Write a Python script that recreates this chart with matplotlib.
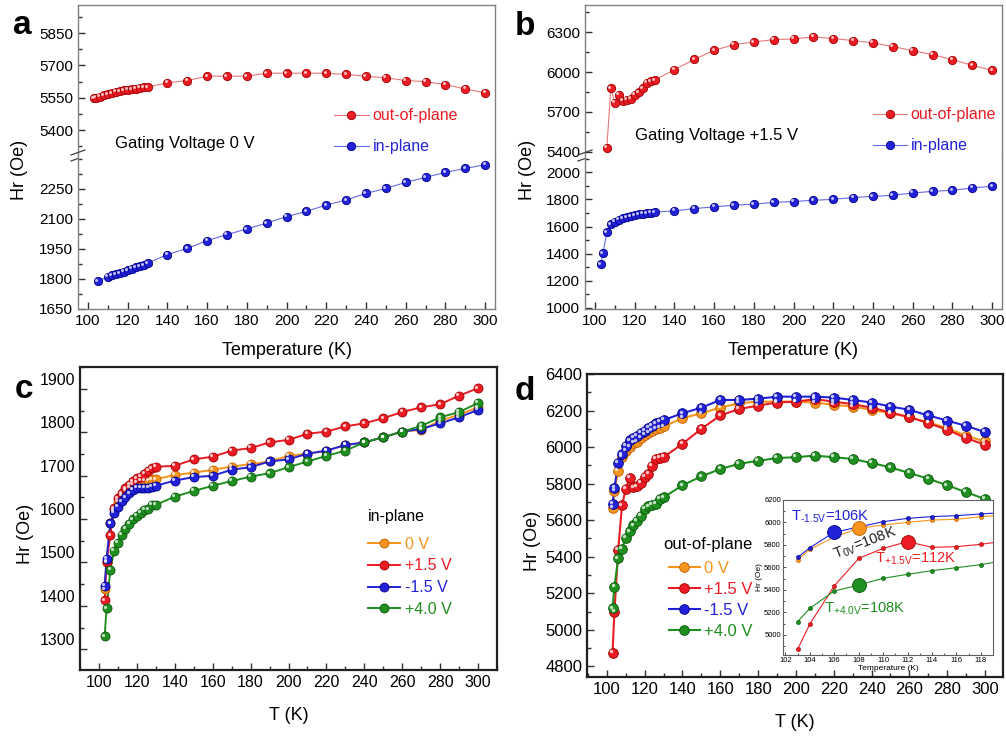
import matplotlib
matplotlib.use("Agg")
import matplotlib.pyplot as plt
import matplotlib.transforms as mtransforms
from matplotlib.lines import Line2D
from matplotlib.ticker import AutoMinorLocator, FixedLocator

plt.rcParams['font.family'] = ['Liberation Sans', 'DejaVu Sans']
plt.rcParams['mathtext.fontset'] = 'custom'
plt.rcParams['mathtext.rm'] = 'Liberation Sans'

# temperatures (K)
temps = [103, 104, 106, 108, 110, 112, 114, 116, 118, 120, 122, 124, 126, 128, 130,
         140, 150, 160, 170, 180, 190, 200, 210, 220, 230, 240, 250, 260, 270, 280, 290, 300]

# panel a : gating voltage 0 V
a_out = [5547, 5550, 5556, 5562, 5567, 5572, 5577, 5581, 5584, 5587, 5590, 5593, 5597, 5599, 5600,
         5619, 5630, 5650, 5650, 5650, 5664, 5664, 5664, 5664, 5658, 5650, 5643, 5630, 5625, 5611, 5591, 5573]
a_in_t = [105, 110, 112, 114, 116, 118, 120, 122, 124, 126, 128, 130,
          140, 150, 160, 170, 180, 190, 200, 210, 220, 230, 240, 250, 260, 270, 280, 290, 300]
a_in = [1788, 1812, 1818, 1824, 1830, 1836, 1843, 1852, 1858, 1864, 1870, 1880,
        1922, 1953, 1992, 2022, 2050, 2080, 2112, 2138, 2170, 2195, 2228, 2253, 2283, 2308, 2333, 2353, 2371]

# panel b : gating voltage +1.5 V
b_out_t = [106, 108, 110, 112, 114, 116, 118, 120, 122, 124, 126, 128, 130,
           140, 150, 160, 170, 180, 190, 200, 210, 220, 230, 240, 250, 260, 270, 280, 290, 300]
b_out = [5430, 5880, 5770, 5831, 5783, 5790, 5800, 5830, 5850, 5880, 5920, 5930, 5940,
         6018, 6096, 6164, 6207, 6227, 6245, 6250, 6265, 6253, 6238, 6220, 6193, 6162, 6132, 6094, 6051, 6013]
b_in = [1321, 1403, 1556, 1618, 1634, 1650, 1660, 1668, 1676, 1683, 1690, 1695, 1700, 1703, 1707,
        1715, 1733, 1745, 1758, 1765, 1778, 1785, 1794, 1801, 1814, 1823, 1831, 1848, 1860, 1868, 1885, 1898]

# panel c : in-plane
c_0v = [1438, 1502, 1590, 1620, 1640, 1655, 1665, 1673, 1680, 1685, 1688, 1688, 1690, 1692, 1692,
        1702, 1707, 1714, 1721, 1727, 1733, 1746, 1751, 1758, 1771, 1777, 1789, 1802, 1806, 1827, 1841, 1858]
c_p15 = [1413, 1500, 1563, 1625, 1648, 1660, 1671, 1679, 1687, 1694, 1698, 1704, 1711, 1717, 1721,
         1723, 1738, 1744, 1758, 1764, 1777, 1783, 1797, 1802, 1814, 1821, 1833, 1847, 1858, 1865, 1885, 1902]
c_m15 = [1446, 1508, 1590, 1614, 1629, 1641, 1650, 1660, 1667, 1673, 1673, 1673, 1673, 1675, 1677,
         1689, 1697, 1700, 1714, 1720, 1733, 1738, 1751, 1758, 1771, 1777, 1789, 1802, 1808, 1821, 1835, 1852]
c_p40 = [1330, 1394, 1483, 1527, 1546, 1564, 1577, 1589, 1600, 1608, 1614, 1621, 1623, 1633, 1633,
         1652, 1665, 1677, 1688, 1698, 1706, 1720, 1733, 1746, 1758, 1777, 1789, 1802, 1815, 1835, 1847, 1868]

# panel d : out-of-plane
d_0v = [5668, 5761, 5870, 5948, 5978, 6001, 6022, 6028, 6052, 6065, 6078, 6088, 6098, 6105, 6113,
        6158, 6185, 6216, 6240, 6249, 6249, 6249, 6244, 6231, 6222, 6204, 6185, 6164, 6135, 6104, 6062, 6031]
d_p15 = [4873, 5098, 5436, 5681, 5770, 5830, 5779, 5785, 5806, 5836, 5855, 5898, 5935, 5940, 5945,
         6018, 6100, 6173, 6209, 6227, 6244, 6249, 6262, 6249, 6235, 6216, 6189, 6164, 6131, 6095, 6049, 6013]
d_m15 = [5690, 5776, 5913, 5960, 6007, 6037, 6052, 6061, 6076, 6090, 6105, 6118, 6130, 6140, 6148,
         6185, 6216, 6258, 6258, 6265, 6276, 6276, 6276, 6271, 6258, 6244, 6222, 6204, 6173, 6145, 6116, 6082]
d_p40 = [5118, 5237, 5391, 5444, 5504, 5539, 5572, 5598, 5625, 5664, 5676, 5685, 5691, 5716, 5725,
         5791, 5840, 5880, 5909, 5925, 5940, 5945, 5953, 5945, 5935, 5913, 5889, 5858, 5827, 5791, 5753, 5716]

voltages = ['0 V', '+1.5 V', '-1.5 V', '+4.0 V']
t_cross = [108, 112, 106, 108]   # transition temperatures marked in the inset

RED, RED_E = '#ec1c24', '#a00000'
BLUE, BLUE_E = '#2222d8', '#00008a'
ORANGE, ORANGE_E = '#f7941d', '#c06000'
GREEN, GREEN_E = '#1f8f1f', '#0a560a'
colors = [(ORANGE, ORANGE_E), (RED, RED_E), (BLUE, BLUE_E), (GREEN, GREEN_E)]

W, H = 1006, 736
fig = plt.figure(figsize=(W / 100, H / 100), dpi=100)


def px_axes(x0, y0, x1, y1):
    return fig.add_axes([x0 / W, 1 - y1 / H, (x1 - x0) / W, (y1 - y0) / H])


def balls(ax, x, y, c, e, ms, lw, lc=None, z=3):
    lc = lc or c
    ax.plot(x, y, '-', color=lc, lw=lw, zorder=z)
    ax.plot(x, y, 'o', ls='none', ms=ms, mfc=c, mec=e, mew=0.6, zorder=z + 0.1)
    hl = mtransforms.offset_copy(ax.transData, fig=fig, x=-ms * 0.18, y=ms * 0.18, units='points')
    ax.plot(x, y, 'o', ls='none', ms=ms * 0.35, mfc='white', mec='none', alpha=0.75,
            transform=hl, zorder=z + 0.2)
    return Line2D([], [], color=lc, lw=lw, marker='o', ms=ms, mfc=c, mec=e, mew=0.6)


def style(ax, fs, spine_c='#808080', spine_w=1.0):
    for s in ax.spines.values():
        s.set_color(spine_c)
        s.set_linewidth(spine_w)
    ax.tick_params(which='both', direction='in', top=False, right=False, labelsize=fs,
                   color='#303030')
    ax.tick_params(which='major', length=5, width=1)
    ax.tick_params(which='minor', length=3, width=1)


def broken(ax_t, ax_b, top_lim, top_ticks, bot_lim, bot_ticks):
    for ax in (ax_t, ax_b):
        style(ax, 11)
        ax.set_xlim(95, 305)
        ax.xaxis.set_major_locator(FixedLocator([100, 120, 140, 160, 180, 200, 220, 240, 260, 280, 300]))
        ax.xaxis.set_minor_locator(AutoMinorLocator(2))
        ax.yaxis.set_minor_locator(AutoMinorLocator(2))
    ax_t.set_ylim(*top_lim)
    ax_t.set_yticks(top_ticks)
    ax_b.set_ylim(*bot_lim)
    ax_b.set_yticks(bot_ticks)
    ax_t.spines['bottom'].set_visible(False)
    ax_b.spines['top'].set_visible(False)
    ax_t.tick_params(which='both', bottom=False, labelbottom=False)
    ax_b.set_xlabel('Temperature (K)', fontsize=13, labelpad=10)
    # break marks on the left spine
    for dy in (-3.5, 2.5):
        ax_t.plot([-7 / 417, 7 / 417], [(dy - 2.5) / 150, (dy + 2.5) / 150], color='#404040',
                  lw=0.9, transform=ax_t.transAxes, clip_on=False, zorder=10)


# ---------------- panel a ----------------
ax_at = px_axes(78, 5, 495, 155)
ax_ab = px_axes(78, 155, 495, 309)
broken(ax_at, ax_ab, (5285, 5980), [5400, 5550, 5700, 5850], (1650, 2420), [1650, 1800, 1950, 2100, 2250])
h_out = balls(ax_at, temps, a_out, RED, RED_E, 6, 0.8, lc='#e87878')
h_in = balls(ax_ab, a_in_t, a_in, BLUE, BLUE_E, 6, 0.8, lc='#6a6ae0')
ax_at.text(0.089, 0.045, 'Gating Voltage 0 V', transform=ax_at.transAxes, fontsize=12)
ax_at.legend([h_out, h_in], ['out-of-plane', 'in-plane'], loc='upper left',
             bbox_to_anchor=(0.594, 0.365), frameon=False, fontsize=11.5, numpoints=1,
             handlelength=2.2, handletextpad=0.25, labelspacing=1.0, borderpad=0,
             labelcolor=[RED, BLUE])
fig.text(20 / W, 1 - 170 / H, 'Hr (Oe)', rotation=90, fontsize=13, ha='center', va='center')

# ---------------- panel b ----------------
ax_bt = px_axes(585, 5, 1002, 155)
ax_bb = px_axes(585, 155, 1002, 309)
broken(ax_bt, ax_bb, (5375, 6506), [5400, 5700, 6000, 6300], (990, 2129), [1000, 1200, 1400, 1600, 1800, 2000])
h_out = balls(ax_bt, b_out_t, b_out, RED, RED_E, 6, 0.8, lc='#e87878')
h_in = balls(ax_bb, temps, b_in, BLUE, BLUE_E, 6, 0.8, lc='#6a6ae0')
ax_bt.text(0.12, 0.1, 'Gating Voltage +1.5 V', transform=ax_bt.transAxes, fontsize=12)
ax_bt.legend([h_out, h_in], ['out-of-plane', 'in-plane'], loc='upper left',
             bbox_to_anchor=(0.672, 0.37), frameon=False, fontsize=11.5, numpoints=1,
             handlelength=2.1, handletextpad=0.25, labelspacing=1.0, borderpad=0,
             labelcolor=[RED, BLUE])
fig.text(528 / W, 1 - 170 / H, 'Hr (Oe)', rotation=90, fontsize=13, ha='center', va='center')

# ---------------- panel c ----------------
ax_c = px_axes(80, 367, 497, 670)
style(ax_c, 11.5, spine_c='#202020', spine_w=1.6)
ax_c.set_xlim(90, 310)
ax_c.set_ylim(1252, 1951)
ax_c.xaxis.set_major_locator(FixedLocator([100, 120, 140, 160, 180, 200, 220, 240, 260, 280, 300]))
ax_c.yaxis.set_major_locator(FixedLocator([1300, 1400, 1500, 1600, 1700, 1800, 1900]))
ax_c.xaxis.set_minor_locator(AutoMinorLocator(2))
ax_c.yaxis.set_minor_locator(AutoMinorLocator(2))
handles = []
for vals, (c, e) in zip([c_0v, c_p15, c_m15, c_p40], colors):
    handles.append(balls(ax_c, temps, vals, c, e, 6.5, 1.4))
ax_c.set_xlabel('T (K)', fontsize=13, labelpad=12)
ax_c.set_ylabel('Hr (Oe)', fontsize=13)
ax_c.yaxis.set_label_coords(-0.11, 0.45)
ax_c.text(0.69, 0.508, 'in-plane', transform=ax_c.transAxes, fontsize=11.5, va='center')
ax_c.legend(handles, voltages, loc='upper left', bbox_to_anchor=(0.671, 0.466),
            frameon=False, fontsize=11.5, numpoints=1, handlelength=2.0,
            handletextpad=0.3, labelspacing=0.42, borderpad=0,
            labelcolor=[c for c, e in colors])
# tick labels in the original sit slightly above their ticks
shift = mtransforms.ScaledTranslation(0, 0.10, fig.dpi_scale_trans)
for t in ax_c.yaxis.get_major_ticks():
    t.label1.set_transform(t.label1.get_transform() + shift)

# ---------------- panel d ----------------
ax_d = px_axes(587, 374, 1003, 677)
style(ax_d, 12, spine_c='#202020', spine_w=1.6)
ax_d.set_xlim(89.5, 309.5)
ax_d.set_ylim(4742, 6400)
ax_d.xaxis.set_major_locator(FixedLocator([100, 120, 140, 160, 180, 200, 220, 240, 260, 280, 300]))
ax_d.yaxis.set_major_locator(FixedLocator([4800, 5000, 5200, 5400, 5600, 5800, 6000, 6200, 6400]))
ax_d.xaxis.set_minor_locator(AutoMinorLocator(2))
ax_d.yaxis.set_minor_locator(AutoMinorLocator(2))
d_sets = [d_0v, d_p15, d_m15, d_p40]
handles = []
for vals, (c, e) in zip(d_sets, colors):
    handles.append(balls(ax_d, temps, vals, c, e, 7, 1.5))
ax_d.set_xlabel('T (K)', fontsize=13, labelpad=12)
ax_d.set_ylabel('Hr (Oe)', fontsize=13)
ax_d.yaxis.set_label_coords(-0.11, 0.45)
ax_d.text(0.183, 0.436, 'out-of-plane', transform=ax_d.transAxes, fontsize=12, va='center')
ax_d.legend(handles, voltages, loc='upper left', bbox_to_anchor=(0.176, 0.41),
            frameon=False, fontsize=12, numpoints=1, handlelength=1.9,
            handletextpad=0.25, labelspacing=0.36, borderpad=0,
            labelcolor=[c for c, e in colors])

# inset
ax_i = px_axes(783, 500, 993, 655)
style(ax_i, 5.5, spine_c='#606060', spine_w=0.8)
ax_i.tick_params(which='major', length=2.5, width=0.6, pad=1.5)
ax_i.tick_params(which='minor', length=1.5, width=0.6)
ax_i.set_xlim(101.8, 119)
ax_i.set_ylim(4822, 6200)
ax_i.xaxis.set_major_locator(FixedLocator([102, 104, 106, 108, 110, 112, 114, 116, 118]))
ax_i.yaxis.set_major_locator(FixedLocator([5000, 5200, 5400, 5600, 5800, 6000, 6200]))
ax_i.xaxis.set_minor_locator(AutoMinorLocator(2))
ax_i.yaxis.set_minor_locator(AutoMinorLocator(2))
for vals, (c, e) in zip(d_sets, colors):
    ax_i.plot(temps, vals, '-', color=c, lw=0.8)
    ax_i.plot(temps, vals, 'o', ls='none', ms=3, mfc=c, mec=e, mew=0.4)
for vals, (c, e), tc in zip(d_sets, colors, t_cross):
    k = temps.index(tc)
    ax_i.plot([tc], [vals[k]], 'o', ms=10, mfc=c, mec=e, mew=0.6, zorder=5)
ax_i.set_xlabel('Temperature (K)', fontsize=6, labelpad=0.5)
ax_i.set_ylabel('Hr (Oe)', fontsize=6, labelpad=1)
ax_i.text(0.04, 0.895, r'T$_{\text{-1.5V}}$=106K', transform=ax_i.transAxes, color=BLUE, fontsize=10.5,
          va='center')
ax_i.text(0.39, 0.72, r'T$_{\text{0V}}$=108K', transform=ax_i.transAxes, color='#202020', fontsize=10.5,
          va='center', ha='center', rotation=21)
ax_i.text(0.63, 0.62, r'T$_{\text{+1.5V}}$=112K', transform=ax_i.transAxes, color=RED, fontsize=10.5,
          va='center', ha='center')
ax_i.text(0.39, 0.30, r'T$_{\text{+4.0V}}$=108K', transform=ax_i.transAxes, color=GREEN, fontsize=10.5,
          va='center', ha='center')

# panel letters
for x, y, s in [(13, 34, 'a'), (515, 35, 'b'), (15, 398, 'c'), (515, 400, 'd')]:
    fig.text(x / W, 1 - y / H, s, fontsize=24, weight='bold', va='baseline')

fig.savefig('out.png', dpi=100)
